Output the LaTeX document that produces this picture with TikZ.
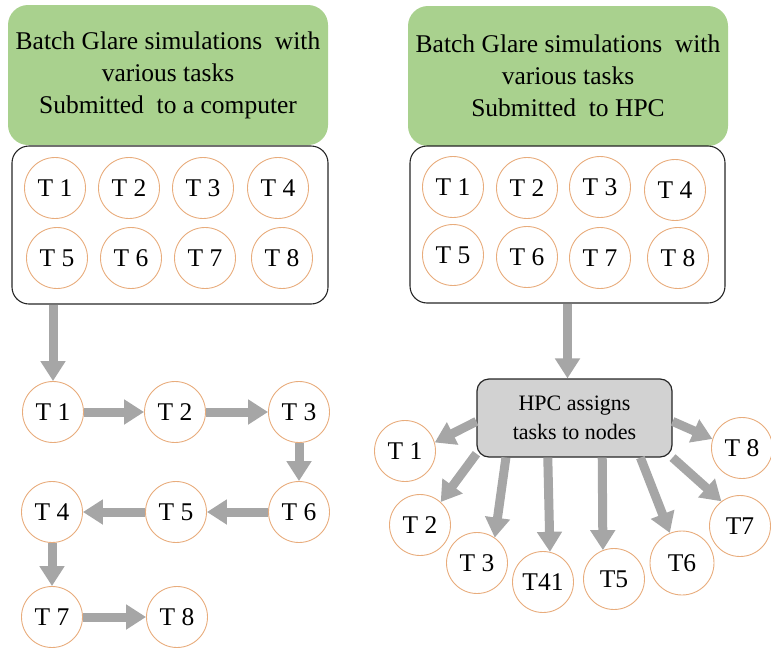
\documentclass[tikz,border=0pt]{standalone}
\usepackage{fontspec}
\setmainfont{Liberation Serif}
\usetikzlibrary{arrows.meta}

\definecolor{boxgreen}{RGB}{169,209,142}
\definecolor{taskring}{RGB}{232,172,124}
\definecolor{flowgray}{RGB}{166,166,166}
\definecolor{hpcgray}{RGB}{210,210,210}

\tikzset{
  greenbox/.style={fill=boxgreen, draw=none, rounded corners=20pt,
    minimum width=320pt, minimum height=140pt, align=center,
    font=\fontsize{25.5}{32}\selectfont},
  panel/.style={draw=black!85, line width=1.1pt, rounded corners=17pt,
    minimum width=316pt, minimum height=158pt, inner sep=0pt},
  task/.style={circle, draw=taskring, line width=0.9pt, minimum size=61pt,
    inner sep=0pt, font=\fontsize{25.5}{28}\selectfont},
  flow/.style={draw=flowgray, line width=9pt,
    -{Triangle[length=20pt,width=24pt]}},
  hpcbox/.style={fill=hpcgray, draw=black!85, line width=1.2pt,
    rounded corners=12pt, minimum width=195pt, minimum height=78pt,
    align=center, font=\fontsize{22}{29}\selectfont}
}

\begin{document}
\begin{tikzpicture}[x=1pt, y=-1pt]
\useasboundingbox (0,0) rectangle (771,648);

% ---------- left column: one computer ----------
\node[greenbox] (lhead) at (168,75)
  {Batch Glare simulations\ \ with\\various tasks\\Submitted\ \ to a computer};
\node[panel] (lbox) at (170,225) {};

\node[task] (la1) at (55,188)  {T 1};
\node[task] (la2) at (129,188) {T 2};
\node[task] (la3) at (203,188) {T 3};
\node[task] (la4) at (278,188) {T 4};
\node[task] (la5) at (57,258)  {T 5};
\node[task] (la6) at (131,258) {T 6};
\node[task] (la7) at (205,258) {T 7};
\node[task] (la8) at (282,258) {T 8};

% tasks run one after another
\node[task] (s1) at (53,412)  {T 1};
\node[task] (s2) at (175,412) {T 2};
\node[task] (s3) at (299,412) {T 3};
\node[task] (s6) at (299,512) {T 6};
\node[task] (s5) at (176,512) {T 5};
\node[task] (s4) at (52,512)  {T 4};
\node[task] (s7) at (52,617)  {T 7};
\node[task] (s8) at (177,617) {T 8};

\draw[flow] (lbox.south -| s1.north) -- (s1.north);
\draw[flow] (s1) -- (s2);
\draw[flow] (s2) -- (s3);
\draw[flow] (s3) -- (s6);
\draw[flow] (s6) -- (s5);
\draw[flow] (s5) -- (s4);
\draw[flow] (s4) -- (s7);
\draw[flow] (s7) -- (s8);

% ---------- right column: HPC ----------
\node[greenbox] (rhead) at (568,76)
  {Batch Glare simulations\ \ with\\various tasks\\Submitted\ \ to HPC};
\node[panel, minimum width=315pt, minimum height=157pt] (rbox) at (567.5,224.5) {};

\node[task] (ra1) at (453,187) {T 1};
\node[task] (ra2) at (527,188) {T 2};
\node[task] (ra3) at (600,187) {T 3};
\node[task] (ra4) at (675,190) {T 4};
\node[task] (ra5) at (453,255) {T 5};
\node[task] (ra6) at (527,257) {T 6};
\node[task] (ra7) at (600,258) {T 7};
\node[task] (ra8) at (678,258) {T 8};

\node[hpcbox] (hpc) at (574.5,418) {HPC assigns\\tasks to nodes};

\draw[flow] (rbox.south -| hpc.north) ++(-7,0) coordinate (rdrop) -- (rdrop |- hpc.north);

% tasks handed out to nodes in parallel
\node[task] (p1) at (405,451) {T 1};
\node[task] (p2) at (420,525) {T 2};
\node[task] (p3) at (477,563) {T 3};
\node[task] (p4) at (543,582) {T41};
\node[task] (p5) at (614,579) {T5};
\node[task, minimum size=64pt] (p6) at (682,563) {T6};
\node[task] (p7) at (740,526) {T7};
\node[task] (p8) at (742,448) {T 8};

\draw[flow] (hpc.182) -- (p1.16);
\draw[flow] (hpc.200) -- (p2.48);
\draw[flow] (hpc.210) -- (p3.55);
\draw[flow] (hpc.236) -- (p4.77);
\draw[flow] (hpc.305) -- (p5.111);
\draw[flow] (hpc.329) -- (p6.112);
\draw[flow] (hpc.338) -- (p7.127);
\draw[flow] (hpc.358) -- (p8.163);
\end{tikzpicture}
\end{document}
